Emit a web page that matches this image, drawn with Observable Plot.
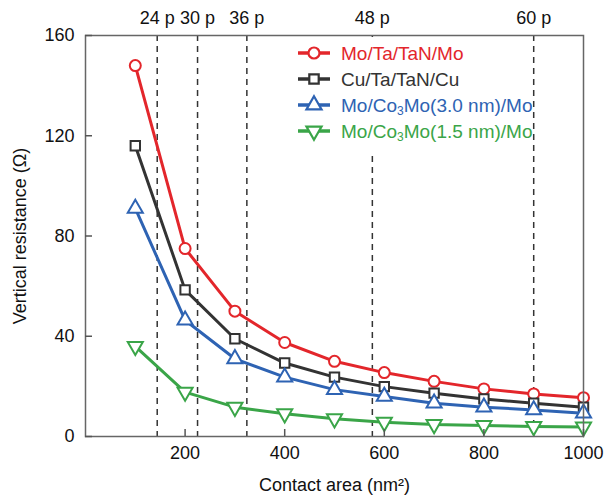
<!DOCTYPE html>
<html><head><meta charset="utf-8">
<script src="https://cdn.jsdelivr.net/npm/d3@7"></script>
<script src="https://cdn.jsdelivr.net/npm/@observablehq/plot@0.6"></script>
<style>
body{margin:0;background:#fff;font-family:"Liberation Sans",Arial,sans-serif;}
#wrap{position:relative;width:606px;height:499px;}
#legend{position:absolute;left:0;top:0;pointer-events:none;}
</style></head>
<body><div id="wrap"></div>
<script>
const contactArea = [100,200,300,400,500,600,700,800,900,1000];
const moTaTaNMo   = [148, 75, 50, 37.5, 30, 25.5, 22, 19, 17, 15.5];
const cuTaTaNCu   = [116, 58.5, 39, 29.3, 23.7, 19.9, 17.3, 15, 13.3, 11.7];
const co3Mo30     = [91, 46.4, 31, 23.7, 18.7, 16, 13.3, 11.7, 10.6, 9.3];
const co3Mo15     = [36, 17.7, 11.7, 9.1, 7.1, 5.7, 4.8, 4.4, 4.0, 3.8];
const pitchAreas  = [144, 225, 324, 576, 900];
const pitchLabels = ["24 p", "30 p", "36 p", "48 p", "60 p"];
const xTicks = [200, 400, 600, 800, 1000];
const yTicks = [0, 40, 80, 120, 160];

const triangleDown = {
  draw(context, size) {
    const sqrt3 = Math.sqrt(3);
    const y = -Math.sqrt(size / (sqrt3 * 3));
    context.moveTo(0, -y * 2);
    context.lineTo(-sqrt3 * y, y);
    context.lineTo(sqrt3 * y, y);
    context.closePath();
  }
};

const sub = "<tspan baseline-shift='-3' font-size='12'>3</tspan><tspan>";
const series = [
  {name: "Mo/Ta/TaN/Mo", html: "Mo/Ta/TaN/Mo", values: moTaTaNMo, color: "#e3262b", symbol: "circle", r: 5.5},
  {name: "Cu/Ta/TaN/Cu", html: "Cu/Ta/TaN/Cu", values: cuTaTaNCu, color: "#333333", symbol: "square", r: 5.3},
  {name: "Mo/Co3Mo(3.0 nm)/Mo", html: "Mo/Co" + sub + "Mo(3.0 nm)/Mo</tspan>", values: co3Mo30, color: "#2e63b3", symbol: "triangle", r: 5.6},
  {name: "Mo/Co3Mo(1.5 nm)/Mo", html: "Mo/Co" + sub + "Mo(1.5 nm)/Mo</tspan>", values: co3Mo15, color: "#3aa548", symbol: triangleDown, r: 5.6}
];

const marks = [
  Plot.ruleX(pitchAreas, {x: d => d, stroke: "#333", strokeWidth: 1.5, strokeDasharray: "6,5"}),
  Plot.text(pitchAreas, {x: d => d, text: (d, i) => pitchLabels[i], frameAnchor: "top", dy: -24, fontSize: 18, fill: "#111"})
];
for (const s of series) {
  const rows = contactArea.map((x, i) => ({x, y: s.values[i]}));
  marks.push(Plot.line(rows, {x: "x", y: "y", stroke: s.color, strokeWidth: 3}));
  marks.push(Plot.dot(rows, {x: "x", y: "y", symbol: s.symbol, r: s.r, stroke: s.color, fill: "white", strokeWidth: 2}));
}
marks.push(Plot.frame({stroke: "#666", strokeWidth: 1.5}));
marks.push(Plot.axisX({ticks: xTicks, tickFormat: d3.format("d"), tickSize: -7, tickPadding: 17, stroke: "#555", strokeWidth: 1.5, fontSize: 18, label: "Contact area (nm²)", labelAnchor: "center", labelOffset: 54, labelArrow: "none"}));
marks.push(Plot.axisY({ticks: yTicks, tickSize: -7, tickPadding: 18, stroke: "#555", strokeWidth: 1.5, fontSize: 18, label: "Vertical resistance (Ω)", labelAnchor: "center", labelOffset: 72, labelArrow: "none"}));

const chart = Plot.plot({
  width: 606, height: 499,
  marginLeft: 85, marginRight: 23, marginTop: 35, marginBottom: 63,
  style: {fontFamily: "'Liberation Sans', Arial, sans-serif", fontSize: "18px", color: "#111", background: "white"},
  x: {domain: [0, 1000]},
  y: {domain: [0, 160]},
  marks
});
const wrap = document.getElementById("wrap");
wrap.appendChild(chart);

// legend overlay with white background box
const lg = d3.select(wrap).append("svg").attr("id", "legend").attr("width", 606).attr("height", 499);
lg.append("rect").attr("x", 290).attr("y", 37).attr("width", 240).attr("height", 115).attr("fill", "white");
const sym = {circle: d3.symbolCircle, square: d3.symbolSquare, triangle: d3.symbolTriangle};
series.forEach((s, i) => {
  const cy = 53 + i * 26;
  const g = lg.append("g").attr("transform", `translate(0,${cy})`);
  g.append("line").attr("x1", 298).attr("x2", 330).attr("stroke", s.color).attr("stroke-width", 3.5);
  const st = typeof s.symbol === "string" ? sym[s.symbol] : s.symbol;
  g.append("path").attr("transform", "translate(314,0)").attr("d", d3.symbol(st, Math.PI * s.r * s.r)())
    .attr("fill", "white").attr("stroke", s.color).attr("stroke-width", 2.2);
  g.append("text").attr("x", 341).attr("y", 0).attr("dy", "0.35em").attr("fill", s.color)
    .attr("font-size", 19).attr("font-family", "'Liberation Sans', Arial, sans-serif").html(s.html);
});
</script></body></html>
